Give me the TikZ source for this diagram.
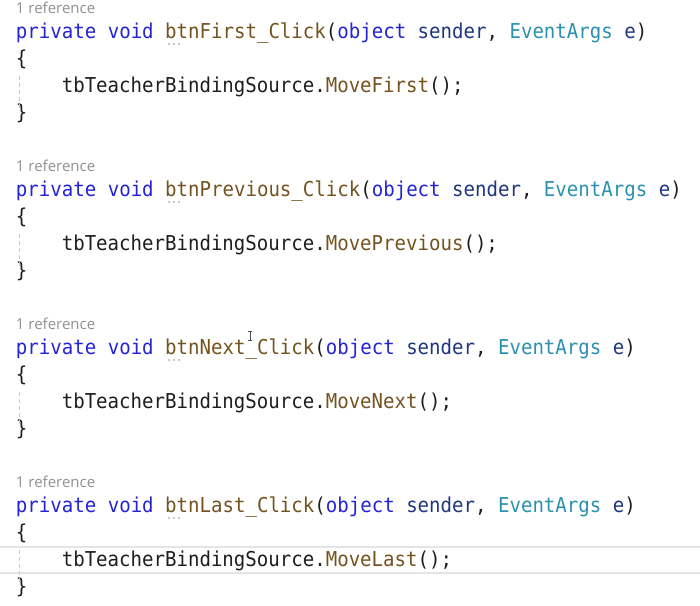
\documentclass[tikz,border=0pt]{standalone}
\usepackage{fontspec}
\newfontfamily\codefont{DejaVu Sans Mono}[FakeStretch=0.93]
\newfontfamily\uifont{Open Sans}
\definecolor{kwblue}{RGB}{36,36,214}
\definecolor{mthbrown}{RGB}{116,83,31}
\definecolor{typteal}{RGB}{43,145,175}
\definecolor{prmnavy}{RGB}{31,55,127}
\definecolor{refgray}{RGB}{145,145,145}
\definecolor{guidegray}{RGB}{200,200,200}
\definecolor{hlgray}{RGB}{228,228,228}
\definecolor{codeblack}{RGB}{30,30,30}
\newcommand{\kw}[1]{\textcolor{kwblue}{#1}}
\newcommand{\mth}[1]{\textcolor{mthbrown}{#1}}
\newcommand{\typ}[1]{\textcolor{typteal}{#1}}
\newcommand{\prm}[1]{\textcolor{prmnavy}{#1}}
\tikzset{
  codetext/.style={anchor=base west,inner sep=0pt,outer sep=0pt,text=codeblack,
    font=\codefont\fontsize{20.5}{27}\selectfont},
  reftext/.style={anchor=base west,inner sep=0pt,outer sep=0pt,text=refgray,
    font=\uifont\fontsize{15}{17}\selectfont},
  guide/.style={draw=guidegray,line width=1pt,dash pattern=on 4pt off 3pt},
  dotc/.style={fill=refgray},
  hlbox/.style={draw=hlgray,line width=1.6pt},
  ibeam/.style={draw=codeblack!80,line width=0.8pt}
}
\newcommand{\codeblock}[4]{%
  \node[reftext] (ref#1) at (16,{#2+13}) {1 reference};
  \node[codetext] (sig#1) at (16,{#2+38}) {\kw{private void} \mth{#3}(\kw{object} \prm{sender}, \typ{EventArgs} \prm{e})};
  \node[codetext] (open#1) at (16,{#2+65}) {\{};
  \node[codetext] (body#1) at (61.8,{#2+92}) {tbTeacherBindingSource.\mth{#4}();};
  \node[codetext] (close#1) at (16,{#2+119}) {\}};
  \draw[guide] (19,{#2+76}) -- (19,{#2+110});
  \fill[dotc] (169,{#2+44}) circle (0.9pt) (174,{#2+44}) circle (0.9pt) (179,{#2+44}) circle (0.9pt);
}
\begin{document}
\begin{tikzpicture}[x=1pt,y=-1pt]
  \fill[white] (0,0) rectangle (700,605);
  \useasboundingbox (0,0) rectangle (700,605);
  % current-line highlight in the last block
  \draw[hlbox] (-2,547) rectangle (702,573);
  \codeblock{1}{0}{btnFirst\_Click}{MoveFirst}
  \codeblock{2}{158}{btnPrevious\_Click}{MovePrevious}
  \codeblock{3}{316}{btnNext\_Click}{MoveNext}
  \codeblock{4}{474}{btnLast\_Click}{MoveLast}
  % mouse I-beam cursor
  \draw[ibeam] (250,331) -- (250,340) (248,331) -- (252,331) (248,340) -- (252,340);
\end{tikzpicture}
\end{document}
